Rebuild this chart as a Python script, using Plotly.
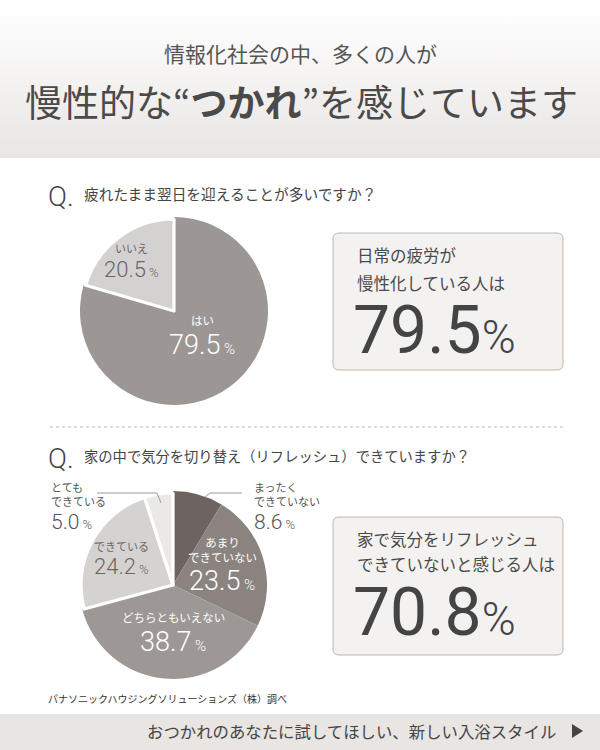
import plotly.graph_objects as go

W, H = 600, 750
JP = "Noto Sans CJK JP"
NUM = "Roboto, Noto Sans CJK JP"

# ---- data ----
q1_question = "疲れたまま翌日を迎えることが多いですか？"
q1_labels = ["はい", "いいえ"]
q1_values = [79.5, 20.5]
q1_colors = ["#9c9794", "#d4d2d0"]
q1_outlined = [False, True]

q2_question = "家の中で気分を切り替え（リフレッシュ）できていますか？"
q2_labels = ["まったく\nできていない", "あまり\nできていない", "どちらともいえない",
             "できている", "とても\nできている"]
q2_values = [8.6, 23.5, 38.7, 24.2, 5.0]
q2_colors = ["#6d6461", "#8a8380", "#9d9895", "#d5d3d1", "#ebe9e7"]
q2_outlined = [False, False, False, True, True]

q1_box_lines = ["日常の疲労が", "慢性化している人は"]
q2_box_lines = ["家で気分をリフレッシュ", "できていないと感じる人は"]
q1_headline = q1_values[0]
q2_headline = sum(q2_values[:3])

subtitle = "情報化社会の中、多くの人が"
title = "慢性的な“<b>つかれ</b>”を感じています"
source = "パナソニックハウジングソリューションズ（株）調べ"
footer = "おつかれのあなたに試してほしい、新しい入浴スタイル"

# ---- label styling (x, label centre y, number y, anchor, color, label size, num size, pct size) ----
q1_label_style = [
    (202, 320, 345, "center", "#ffffff", 11.5, 27, 15),
    (131, 248, 269, "center", "#6b6664", 11, 22, 13),
]
q2_label_style = [
    (253, 494, 522, "left", "#555555", 11, 21, 13),
    (222, 549, 581, "center", "#ffffff", 11.5, 27, 15),
    (173, 617, 642, "center", "#ffffff", 11.5, 27, 15),
    (121, 546, 566, "center", "#6b6664", 11, 22, 13),
    (50, 494, 522, "left", "#555555", 11, 21, 13),
]


def pie_domain(cx, cy, r):
    return dict(x=[(cx - r) / W, (cx + r) / W],
                y=[(H - (cy + r)) / H, (H - (cy - r)) / H])


fig = go.Figure()

# header gradient band
fig.add_trace(go.Scatter(
    x=[0, W, W, 0, 0], y=[0, 0, 158, 158, 0], mode="lines", fill="toself",
    line=dict(width=0), hoverinfo="skip", showlegend=False,
    fillgradient=dict(type="vertical", start=0, stop=158,
                      colorscale=[[0, "#ffffff"], [0.25, "#fbfafa"], [1, "#e8e5e2"]]),
))


def add_pie(values, labels, colors, outlined, cx, cy, r):
    # dark slices at full radius, light slices slightly smaller with a white seam
    base = [c if not o else "rgba(0,0,0,0)" for c, o in zip(colors, outlined)]
    light = [c if o else "rgba(0,0,0,0)" for c, o in zip(colors, outlined)]
    fig.add_trace(go.Pie(
        values=values, labels=labels, sort=False, direction="clockwise", rotation=0,
        marker=dict(colors=base, line=dict(width=0)), textinfo="none",
        hoverinfo="skip", showlegend=False, domain=pie_domain(cx, cy, r),
    ))
    fig.add_trace(go.Pie(
        values=values, labels=labels, sort=False, direction="clockwise", rotation=0,
        marker=dict(colors=light,
                    line=dict(width=[3.2 if o else 0 for o in outlined],
                              color=["#ffffff" if o else "rgba(0,0,0,0)" for o in outlined])),
        textinfo="none", hoverinfo="skip", showlegend=False,
        domain=pie_domain(cx, cy, r - 2),
    ))


add_pie(q1_values, q1_labels, q1_colors, q1_outlined, 174, 311, 94)
add_pie(q2_values, q2_labels, q2_colors, q2_outlined, 173, 585, 94)


def add_text(x, y, text, size, color, family=JP, weight=400, anchor="center"):
    fig.add_annotation(x=x, y=y, xref="x", yref="y", text=text, showarrow=False,
                       xanchor=anchor, yanchor="middle", align=anchor, borderpad=0,
                       font=dict(family=family, size=size, color=color, weight=weight))


def add_slice_labels(labels, values, styles):
    for lab, v, (x, yl, yn, anchor, color, ls, ns, ps) in zip(labels, values, styles):
        add_text(x, yl, lab.replace("\n", "<br>"), ls, color, anchor=anchor)
        add_text(x, yn, f"{v:.1f}<span style='font-size:{ps}px'> %</span>", ns, color,
                 family=NUM, weight=300, anchor=anchor)


add_slice_labels(q1_labels, q1_values, q1_label_style)
add_slice_labels(q2_labels, q2_values, q2_label_style)

# header titles
add_text(300, 53, subtitle, 21, "#555555")
add_text(301, 101, title, 37, "#4a4a4a")

# questions
add_text(47, 196, "Q.", 28, "#444444", family=NUM, weight=300, anchor="left")
add_text(83, 193, q1_question, 14.7, "#444444", anchor="left")
add_text(47, 458, "Q.", 28, "#444444", family=NUM, weight=300, anchor="left")
add_text(83, 455, q2_question, 14.3, "#444444", anchor="left")


def rounded_box(x0, y0, x1, y1, rad=6):
    return (f"M{x0 + rad},{y0} L{x1 - rad},{y0} Q{x1},{y0} {x1},{y0 + rad} "
            f"L{x1},{y1 - rad} Q{x1},{y1} {x1 - rad},{y1} L{x0 + rad},{y1} "
            f"Q{x0},{y1} {x0},{y1 - rad} L{x0},{y0 + rad} Q{x0},{y0} {x0 + rad},{y0} Z")


for (y0, y1), lines, val, ys in [((233, 370), q1_box_lines, q1_headline, (255, 283, 330)),
                                 ((517, 655), q2_box_lines, q2_headline, (539, 564, 612))]:
    fig.add_shape(type="path", path=rounded_box(333, y0, 563, y1), xref="x", yref="y",
                  fillcolor="#f3f2f1", line=dict(color="#bdb6b2", width=1), layer="below")
    add_text(356, ys[0], lines[0], 16.5, "#4a4a4a", anchor="left")
    add_text(356, ys[1], lines[1], 16.5, "#4a4a4a", anchor="left")
    add_text(352, ys[2], f"{val:.1f}<span style='font-size:46px;font-weight:300'>%</span>",
             66, "#444444", family=NUM, weight=400, anchor="left")

# leader lines for outside labels
fig.add_shape(type="path", path="M97,493 L157,493 L161,503", xref="x", yref="y",
              line=dict(color="#9a9a9a", width=1), layer="above")
fig.add_shape(type="path", path="M205,497 L210,493 L242,493", xref="x", yref="y",
              line=dict(color="#9a9a9a", width=1), layer="above")

# divider
fig.add_shape(type="line", x0=50, x1=563, y0=427, y1=427, xref="x", yref="y",
              line=dict(color="#bbbbbb", width=1, dash="dot"))

# source + footer band
add_text(47, 698, source, 10, "#333333", anchor="left")
fig.add_shape(type="rect", x0=0, x1=W, y0=714, y1=H, xref="x", yref="y",
              fillcolor="#e8e5e2", line=dict(width=0), layer="below")
add_text(557, 731, footer, 16.4, "#444444", anchor="right")
fig.add_shape(type="path", path="M572,724 L583,731 L572,738 Z", xref="x", yref="y",
              fillcolor="#444444", line=dict(width=0))

fig.update_layout(
    width=W, height=H, margin=dict(l=0, r=0, t=0, b=0),
    paper_bgcolor="#ffffff", plot_bgcolor="rgba(0,0,0,0)",
    xaxis=dict(range=[0, W], visible=False, fixedrange=True),
    yaxis=dict(range=[H, 0], visible=False, fixedrange=True),
    showlegend=False,
)

# drop the default 8px page margin so the figure fills the window
fig.write_html("out.html", config={"displayModeBar": False},
               post_script="document.body.style.margin='0';")
